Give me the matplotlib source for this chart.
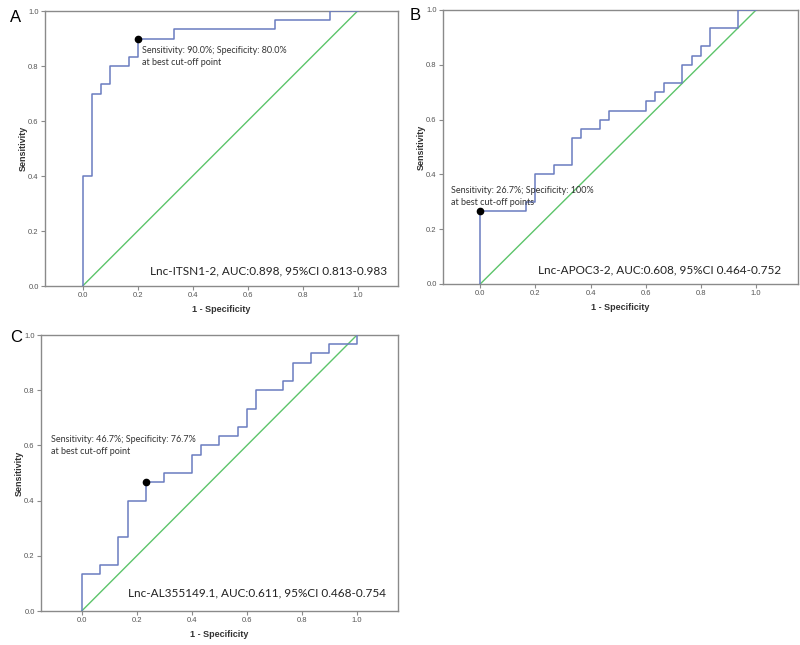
import matplotlib
matplotlib.use("Agg")
import matplotlib.pyplot as plt

# ---- data ----
panel_letters = ["A", "B", "C"]
markers_names = ["Lnc-ITSN1-2", "Lnc-APOC3-2", "Lnc-AL355149.1"]
auc_values = ["0.898", "0.608", "0.611"]
ci_values = ["0.813-0.983", "0.464-0.752", "0.468-0.754"]

fpr_A = [0, 0, 0.033, 0.067, 0.1, 0.167, 0.2, 0.333, 0.7, 0.9, 1.0]
tpr_A = [0, 0.4, 0.7, 0.733, 0.8, 0.833, 0.9, 0.933, 0.967, 1.0, 1.0]

fpr_B = [0, 0, 0.167, 0.2, 0.267, 0.333, 0.367, 0.433, 0.467, 0.6, 0.633,
         0.667, 0.733, 0.767, 0.8, 0.833, 0.933, 1.0]
tpr_B = [0, 0.267, 0.3, 0.4, 0.433, 0.533, 0.567, 0.6, 0.633, 0.667, 0.7,
         0.733, 0.8, 0.833, 0.867, 0.933, 1.0, 1.0]

fpr_C = [0, 0, 0.067, 0.133, 0.167, 0.233, 0.3, 0.4, 0.433, 0.5, 0.567, 0.6,
         0.633, 0.733, 0.767, 0.833, 0.9, 1.0]
tpr_C = [0, 0.133, 0.167, 0.267, 0.4, 0.467, 0.5, 0.567, 0.6, 0.633, 0.667,
         0.733, 0.8, 0.833, 0.9, 0.933, 0.967, 1.0]

best_fpr = [0.2, 0.0, 0.233]
best_tpr = [0.9, 0.267, 0.467]
best_text = [
    "Sensitivity: 90.0%; Specificity: 80.0%\nat best cut-off point",
    "Sensitivity: 26.7%; Specificity: 100%\nat best cut-off points",
    "Sensitivity: 46.7%; Specificity: 76.7%\nat best cut-off point",
]
ticks = [0.0, 0.2, 0.4, 0.6, 0.8, 1.0]
tick_labels = ["0.0", "0.2", "0.4", "0.6", "0.8", "1.0"]

# ---- layout ----
W, H = 800, 645
fig = plt.figure(figsize=(8, 6.45), dpi=100)

def frac(l, t, r, b):
    return [l / W, 1 - b / H, (r - l) / W, (b - t) / H]

axes_px = [(45, 11, 398, 286), (443, 10, 798, 284), (41, 335, 398, 611)]
xlims = [(-0.137, 1.147), (-0.135, 1.152), (-0.148, 1.149)]
letter_pos = [(10, 17), (410, 15), (10, 338)]
ann_pos = [(0.215, 0.834), (-0.106, 0.319), (-0.113, 0.600)]
auc_pos = [(0.245, 0.055), (0.211, 0.051), (0.167, 0.066)]

curves = [(fpr_A, tpr_A), (fpr_B, tpr_B), (fpr_C, tpr_C)]
line_col = "#6a7cc0"
diag_col = "#5cc46a"
spine_col = "#8a8a8a"

for i in range(3):
    ax = fig.add_axes(frac(*axes_px[i]))
    fx, ty = curves[i]
    ax.plot([0, 1], [0, 1], color=diag_col, lw=1.0, zorder=2)
    ax.plot(fx, ty, drawstyle="steps-post", color=line_col, lw=1.1, zorder=3)
    ax.plot([best_fpr[i]], [best_tpr[i]], "o", color="black", ms=4.5, zorder=4)
    ax.set_xlim(*xlims[i])
    ax.set_ylim(0, 1)
    ax.set_xticks(ticks)
    ax.set_xticklabels(tick_labels)
    ax.set_yticks(ticks)
    ax.set_yticklabels(tick_labels)
    ax.tick_params(direction="out", length=3, width=0.8, color=spine_col,
                   labelsize=5.5, labelcolor="#555555", pad=1.5)
    for lab in ax.get_xticklabels() + ax.get_yticklabels():
        lab.set_family("Liberation Sans")
    for s in ax.spines.values():
        s.set_color(spine_col)
        s.set_linewidth(1.0)
    ax.set_xlabel("1 - Specificity", fontsize=6.5, fontweight="bold",
                  family="Liberation Sans", color="#333333", labelpad=4)
    ax.set_ylabel("Sensitivity", fontsize=6.5, fontweight="bold",
                  family="Liberation Sans", color="#333333", labelpad=0)
    ax.text(ann_pos[i][0], ann_pos[i][1], best_text[i], fontsize=6.5,
            family="Lato", color="#333333", va="center", ha="left",
            linespacing=1.33)
    ax.text(auc_pos[i][0], auc_pos[i][1],
            f"{markers_names[i]}, AUC:{auc_values[i]}, 95%CI {ci_values[i]}",
            fontsize=8.5, family="Lato", color="#222222", va="center", ha="left")
    fig.text(letter_pos[i][0] / W, 1 - letter_pos[i][1] / H, panel_letters[i],
             fontsize=12, family="Liberation Sans", va="center", ha="left")

fig.savefig("out.png", dpi=100, facecolor="white")
